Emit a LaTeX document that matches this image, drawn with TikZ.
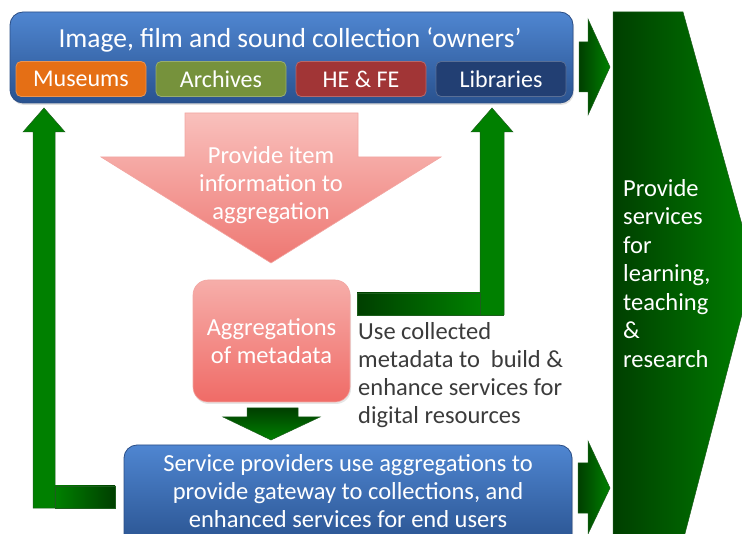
\documentclass[tikz,border=0pt]{standalone}
\usepackage{fontspec}
\setmainfont{Carlito}
\usepackage{tikz}
\usetikzlibrary{shadows}
\definecolor{CBlueTop}{HTML}{4F86D1}
\definecolor{CBlueBot}{HTML}{29528F}
\definecolor{CBlueLine}{HTML}{2B4E86}
\definecolor{CMuseum}{HTML}{E56F15}
\definecolor{CArchive}{HTML}{76923C}
\definecolor{CHeFe}{HTML}{A13536}
\definecolor{CLibrary}{HTML}{223F73}
\definecolor{CGreen}{HTML}{008000}
\definecolor{CGreenDark}{HTML}{003F00}
\definecolor{CGreenLine}{HTML}{1D5E1D}
\definecolor{CPinkTop}{HTML}{F9C0BC}
\definecolor{CPinkBot}{HTML}{EE7772}
\definecolor{CPinkLine}{HTML}{F2A6A2}
\definecolor{CText}{HTML}{3B3B3B}

\begin{document}
\begin{tikzpicture}[x=1pt,y=-1pt,
  txt/.style={inner sep=0pt,align=center,text=white,font=\fontsize{24.5}{28}\selectfont},
  subbox/.style={rounded corners=5pt,minimum width=130pt,minimum height=35pt,
    fill=#1,draw=#1!75!white,line width=.8pt,text=white,font=\fontsize{24}{28}\selectfont},
  bluebox/.style={draw=CBlueLine,line width=.8pt,rounded corners=13pt,
    top color=CBlueTop,bottom color=CBlueBot,drop shadow={opacity=.25,shadow xshift=1pt,shadow yshift=-2pt}},
  greenarrow/.style={draw=CGreenLine,line width=.5pt}]
\useasboundingbox (0,0) rectangle (742,534);
\clip (0,0) rectangle (742,534);

% big arrow on the right
\draw[greenarrow,left color=CGreenDark,right color=CGreen]
  (613,12) -- (683,12) -- (754,268) -- (682,545) -- (613,545) -- cycle;
\node[txt,align=left,anchor=west,font=\fontsize{24.5}{28.5}\selectfont] (outcome) at (623,273.5)
  {Provide\\services\\for\\learning,\\teaching\\\&\\research};

% collection owners
\draw[bluebox] (10,12) rectangle (573,103);
\node[txt,font=\fontsize{27.5}{30}\selectfont] (owners) at (290,40) {Image, film and sound collection ‘owners’};
\node[subbox=CMuseum] (museums) at (81,79) {Museums};
\node[subbox=CArchive] (archives) at (221,79) {Archives};
\node[subbox=CHeFe] (hefe) at (361,79) {HE \& FE};
\node[subbox=CLibrary] (libraries) at (501,79) {Libraries};

% small arrows into the big one
\draw[greenarrow,left color=CGreenDark,right color=CGreen]
  (579,42) -- (588,42) -- (588,19) -- (610,67) -- (588,115) -- (588,92) -- (579,92) -- cycle;
\draw[greenarrow,left color=CGreenDark,right color=CGreen]
  (578,463) -- (588,463) -- (588,441) -- (610,488) -- (588,534) -- (588,513) -- (578,513) -- cycle;

% provide item information
\draw[CPinkLine,line width=.6pt,top color=CPinkTop,bottom color=CPinkBot]
  (185,113) -- (358,113) -- (358,157) -- (441,157) -- (271,263) -- (101,157) -- (185,157) -- cycle;
\node[txt] (provide) at (271,185) {Provide item\\information to\\aggregation};

% aggregations
\node[draw=CPinkLine,line width=.6pt,rounded corners=15pt,minimum width=157pt,minimum height=122pt,
  top color=CPinkTop!75!CPinkBot,bottom color=CPinkBot!90!red,txt,
  drop shadow={opacity=.2,shadow xshift=1pt,shadow yshift=-2pt}] (meta) at (271.5,341) {Aggregations\\of metadata};

% back up to the owners
\fill[CGreen] (480,132) rectangle (504,315);
\draw[greenarrow,fill=CGreen] (480,315) -- (480,132) -- (471,132) -- (492,108) -- (513,132) -- (504,132) -- (504,315);
\draw[greenarrow,left color=CGreenDark,right color=CGreen] (357,293) rectangle (480,315);
\draw[greenarrow] (504,315) -- (480,315);

\draw[greenarrow,fill=CGreen] (55,508) -- (33,508) -- (33,132) -- (23,132) -- (44,108) -- (65,132) -- (55,132) -- cycle;
\draw[greenarrow,left color=CGreen,right color=CGreenDark] (55,486) rectangle (115,508);

% down to the providers
\draw[greenarrow,top color=CGreenDark,bottom color=CGreen]
  (247,408) -- (298,408) -- (298,417) -- (320,417) -- (271,440) -- (223,417) -- (247,417) -- cycle;

\node[txt,align=left,anchor=west,text=CText] (use) at (358,375.5)
  {Use collected\\metadata to\ \ build \&\\enhance services for\\digital resources};

% service providers
\draw[bluebox] (124,445) rectangle (572,548);
\node[txt] (providers) at (348,491) {Service providers use aggregations to\\provide gateway to collections, and\\enhanced services for end users};
\end{tikzpicture}
\end{document}
